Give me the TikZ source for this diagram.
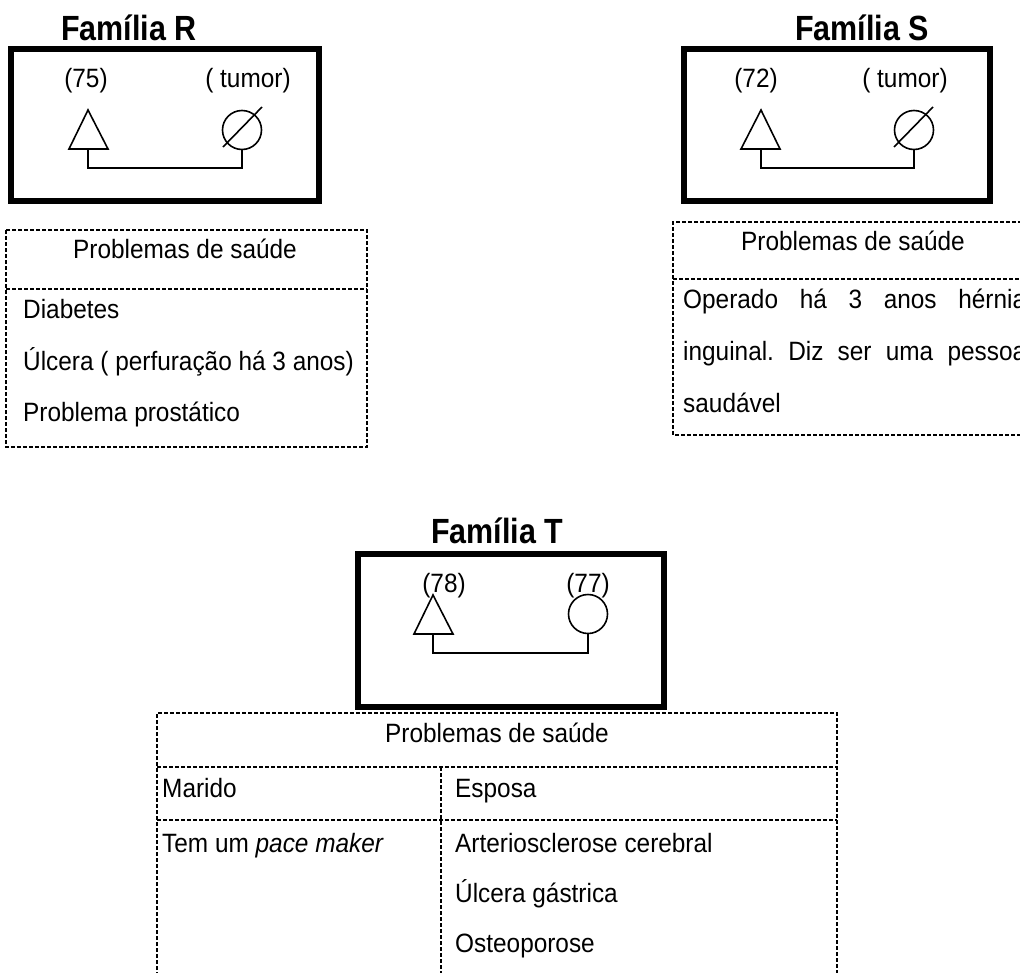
\documentclass[tikz,border=0pt]{standalone}
\usepackage{fontspec}
\setmainfont{Liberation Sans}[FakeStretch=0.92]
\newfontfamily\titlefont{Liberation Sans}[FakeStretch=0.87]
\frenchspacing
\begin{document}
\begin{tikzpicture}[x=1pt,y=-1pt,
  txt/.style={font=\fontsize{26.5}{30}\selectfont, inner sep=0pt},
  ttl/.style={font=\titlefont\bfseries\fontsize{35}{40}\selectfont, inner sep=0pt},
  famframe/.style={draw, line width=6pt},
  thin/.style={draw, line width=1.6pt},
  person/.style={draw, circle, line width=1.6pt, minimum size=39pt, inner sep=0pt},
  tbl/.style={draw, line width=1.3pt, dash pattern=on 4pt off 2pt}]
\path[use as bounding box, clip] (0,0) rectangle (1020,972);
\fill[white] (0,0) rectangle (1020,972);

% ---------------- Familia R ----------------
\node[ttl, anchor=base] (rTitle) at (129,40) {Família R};
\draw[famframe] (11,49) rectangle (319,201);
\node[txt, anchor=base] (rL1) at (86,87) {(75)};
\node[txt, anchor=base] (rL2) at (248,87) {( tumor)};
\coordinate (rTa) at (88,110);
\coordinate (rTb) at (88,149);
\draw[thin, line join=miter] (69,149) -- (rTa) -- (108,149) -- cycle;
\node[person] (rC) at (242,130) {};
\draw[thin] ([shift={(-19,17)}]rC.center) -- ([shift={(20,-23)}]rC.center);
\draw[thin] (rTb) -- ++(0,19) -| (rC.south);

\draw[tbl] (6,230) rectangle (367,447);
\draw[tbl] (6,289) -- (367,289);
\node[txt, anchor=base] (rH) at (185,258) {Problemas de saúde};
\node[txt, anchor=base west] (r1) at (23,318) {Diabetes};
\node[txt, anchor=base west] (r2) at (23,370) {Úlcera ( perfuração há 3 anos)};
\node[txt, anchor=base west] (r3) at (23,421) {Problema prostático};

% ---------------- Familia S ----------------
\node[ttl, anchor=base] (sTitle) at (862,40) {Família S};
\draw[famframe] (684,49) rectangle (990,201);
\node[txt, anchor=base] (sL1) at (756,87) {(72)};
\node[txt, anchor=base] (sL2) at (905,87) {( tumor)};
\coordinate (sTa) at (761,110);
\coordinate (sTb) at (761,149);
\draw[thin, line join=miter] (741,149) -- (sTa) -- (780,149) -- cycle;
\node[person] (sC) at (914,130) {};
\draw[thin] ([shift={(-20,17)}]sC.center) -- ([shift={(19,-23)}]sC.center);
\draw[thin] (sTb) -- ++(0,19) -| (sC.south);

\draw[tbl] (1040,222) -- (673,222) -- (673,435) -- (1040,435);
\draw[tbl] (673,279) -- (1040,279);
\node[txt, anchor=base] (sH) at (853,250) {Problemas de saúde};
\node[txt, anchor=base west] (s1) at (683,308) {\makebox[343pt][s]{Operado há 3 anos hérnia}};
\node[txt, anchor=base west] (s2) at (683,360) {\makebox[343pt][s]{inguinal. Diz ser uma pessoa}};
\node[txt, anchor=base west] (s3) at (683,412) {saudável};

% ---------------- Familia T ----------------
\node[ttl, anchor=base] (tTitle) at (497,543) {Família T};
\draw[famframe] (358,554) rectangle (664,707);
\node[txt, anchor=base] (tL1) at (444,592) {(78)};
\node[txt, anchor=base] (tL2) at (588,592) {(77)};
\coordinate (tTa) at (433,595);
\coordinate (tTb) at (433,634);
\draw[thin, line join=miter] (414,634) -- (tTa) -- (453,634) -- cycle;
\node[person] (tC) at (588,614) {};
\draw[thin] (tTb) -- ++(0,19) -| (tC.south);

\draw[tbl] (157,1000) -- (157,713) -- (837,713) -- (837,1000);
\draw[tbl] (157,767) -- (837,767);
\draw[tbl] (157,820) -- (837,820);
\draw[tbl] (441,767) -- (441,1000);
\node[txt, anchor=base] (tH) at (497,742) {Problemas de saúde};
\node[txt, anchor=base west] (tM) at (162,797) {Marido};
\node[txt, anchor=base west] (tE) at (455,797) {Esposa};
\node[txt, anchor=base west] (tM1) at (162,852) {Tem um \textit{pace maker}};
\node[txt, anchor=base west] (tE1) at (455,852) {Arteriosclerose cerebral};
\node[txt, anchor=base west] (tE2) at (455,902) {Úlcera gástrica};
\node[txt, anchor=base west] (tE3) at (455,952) {Osteoporose};
\end{tikzpicture}
\end{document}
